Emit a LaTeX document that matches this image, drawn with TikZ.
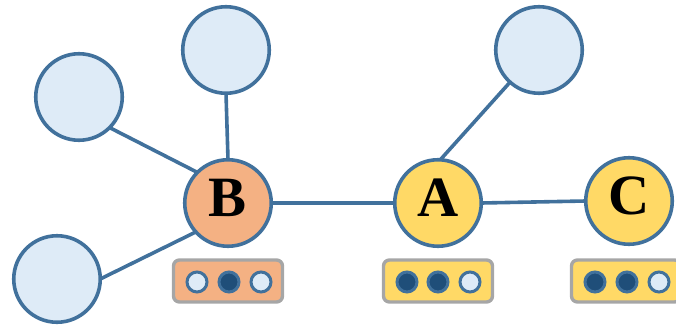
\documentclass[tikz,border=0pt]{standalone}
\usepackage{fontspec}
\setmainfont{Liberation Serif}
\begin{document}
\begin{tikzpicture}[x=1pt,y=-1pt,
  edge/.style={draw=linkblue,line width=3.6pt},
  peer/.style={circle,draw=linkblue,line width=3.6pt,fill=lightfill,minimum size=86.5pt,inner sep=0pt,outer sep=0pt},
  hub/.style={peer,font=\fontsize{57}{57}\selectfont\bfseries,text depth=10pt},
  tray/.style={draw=traygray,line width=3.4pt,rounded corners=6pt,minimum width=109pt,minimum height=42pt,inner sep=0pt},
  full/.style={circle,draw=linkblue,line width=3pt,fill=darkdot,minimum size=20pt,inner sep=0pt},
  empty/.style={full,fill=lightfill}]
\definecolor{linkblue}{HTML}{41719C}
\definecolor{lightfill}{HTML}{DEEBF7}
\definecolor{darkdot}{HTML}{1F4E79}
\definecolor{orangefill}{HTML}{F4B183}
\definecolor{yellowfill}{HTML}{FFD966}
\definecolor{traygray}{HTML}{A6A6A6}
\useasboundingbox (0,0) rectangle (676,329);

% outer peers
\node[peer] (p1) at (79,97) {};
\node[peer] (p2) at (226,50) {};
\node[peer] (p3) at (57,279) {};
\node[peer] (p4) at (539,50) {};

% hubs
\node[hub,fill=orangefill] (B) at (228,203) {B};
\node[hub,fill=yellowfill] (A) at (438,203) {A};
\node[hub,fill=yellowfill] (C) at (629,201) {C};

% links
\draw[edge] (p1.-45) -- (B.135);
\draw[edge] (p2.270) -- (B.90);
\draw[edge] (p3.0) -- (B.222);
\draw[edge] (B.east) -- (A.west);
\draw[edge] (A.east) -- (C.west);
\draw[edge] (A.87) -- (p4.228);

% state trays
\node[tray,fill=orangefill] (tB) at (228,281) {};
\node[empty] (tB1) at (197,282) {};
\node[full]  (tB2) at (229,282) {};
\node[empty] (tB3) at (261,282) {};

\node[tray,fill=yellowfill] (tA) at (438,281) {};
\node[full]  (tA1) at (407,282) {};
\node[full]  (tA2) at (438,282) {};
\node[empty] (tA3) at (470,282) {};

\node[tray,fill=yellowfill] (tC) at (626,281) {};
\node[full]  (tC1) at (595,282) {};
\node[full]  (tC2) at (627,282) {};
\node[empty] (tC3) at (659,282) {};
\end{tikzpicture}
\end{document}
